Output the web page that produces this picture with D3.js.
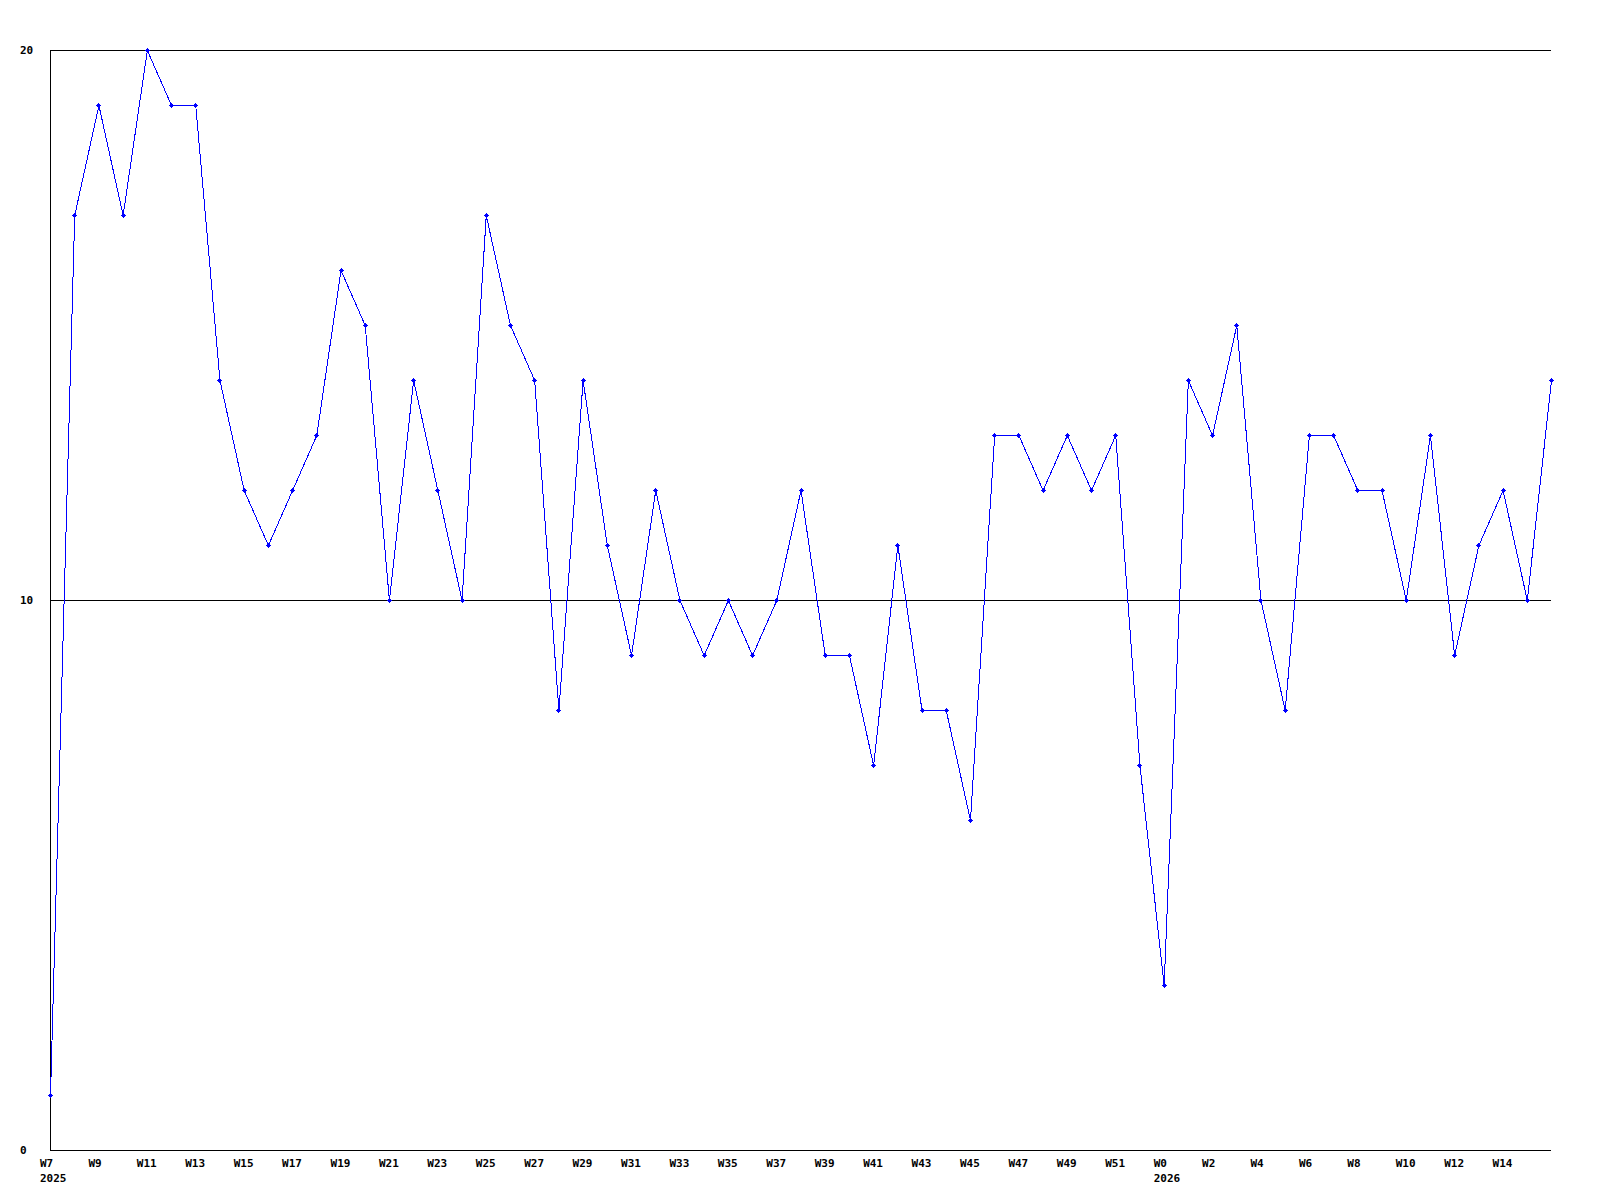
<!DOCTYPE html>
<html>
<head>
<meta charset="utf-8">
<script src="https://cdn.jsdelivr.net/npm/d3@7"></script>
<style>
  body { margin: 0; background: #fff; }
  text { font-family: "DejaVu Sans Mono", monospace; font-weight: bold; font-size: 11px; fill: #000; }
</style>
</head>
<body>
<script>
// weeks 2025 W7..W52, then 2026 W0..W16
var weeks2025 = d3.range(7, 53).map(w => "W" + w);
var weeks2026 = d3.range(0, 17).map(w => "W" + w);
var weeks = weeks2025.concat(weeks2026);

var values = [1, 17, 19, 17, 20, 19, 19, 14, 12, 11, 12, 13, 16, 15, 10, 14, 12, 10, 17, 15,
    14, 8, 14, 11, 9, 12, 10, 9, 10, 9, 10, 12, 9, 9, 7, 11, 8, 8, 6, 13,
    13, 12, 13, 12, 13, 7, 3, 14, 13, 15, 10, 8, 13, 13, 12, 12, 10, 13, 9, 11,
    12, 10, 14];

var yTicks = [0, 10, 20];
var yearLabels = [{ week: 0, text: "2025" }, { week: 46, text: "2026" }];

var width = 1600, height = 1200;
var plotLeft = 50, plotRight = 1551, plotTop = 50, plotBottom = 1150;

var svg = d3.select("body").append("svg")
    .attr("width", width)
    .attr("height", height);

var x = d3.scaleLinear().domain([0, weeks.length - 1]).range([plotLeft, plotRight]);
var y = d3.scaleLinear().domain([0, 20]).range([plotBottom, plotTop]);

// grid lines
svg.selectAll("line.grid").data(yTicks).enter().append("line")
    .attr("class", "grid")
    .attr("x1", plotLeft).attr("x2", plotRight)
    .attr("y1", d => y(d) + 0.5).attr("y2", d => y(d) + 0.5)
    .attr("stroke", "#000")
    .attr("shape-rendering", "crispEdges");

// left axis
svg.append("line")
    .attr("x1", plotLeft + 0.5).attr("x2", plotLeft + 0.5)
    .attr("y1", y(20)).attr("y2", y(0) + 1)
    .attr("stroke", "#000")
    .attr("shape-rendering", "crispEdges");

svg.selectAll("text.ylab").data(yTicks).enter().append("text")
    .attr("class", "ylab")
    .attr("x", 20)
    .attr("y", d => y(d) + 4)
    .text(d => d);

// x labels every two weeks (last week has no label)
var labelIdx = d3.range(0, weeks.length - 1, 2);
svg.selectAll("text.xlab").data(labelIdx).enter().append("text")
    .attr("class", "xlab")
    .attr("x", d => x(d) - 10)
    .attr("y", 1167)
    .text(d => weeks[d]);

svg.selectAll("text.year").data(yearLabels).enter().append("text")
    .attr("class", "year")
    .attr("x", d => x(d.week) - 10)
    .attr("y", 1182)
    .text(d => d.text);

// data line
var line = d3.line()
    .x((d, i) => x(i) + 0.5)
    .y(d => y(d) + 0.5);

svg.append("path")
    .datum(values)
    .attr("d", line)
    .attr("fill", "none")
    .attr("stroke", "#0000ff")
    .attr("stroke-width", 1)
    .attr("shape-rendering", "crispEdges");

// small cross markers
svg.selectAll("path.mark").data(values).enter().append("path")
    .attr("class", "mark")
    .attr("transform", (d, i) => "translate(" + Math.round(x(i)) + "," + Math.round(y(d)) + ")")
    .attr("d", "M-2,0h5v1h-5zM0,-2h1v5h-1zM-1,-1h3v3h-3z")
    .attr("fill", "#0000ff")
    .attr("shape-rendering", "crispEdges");
</script>
</body>
</html>
